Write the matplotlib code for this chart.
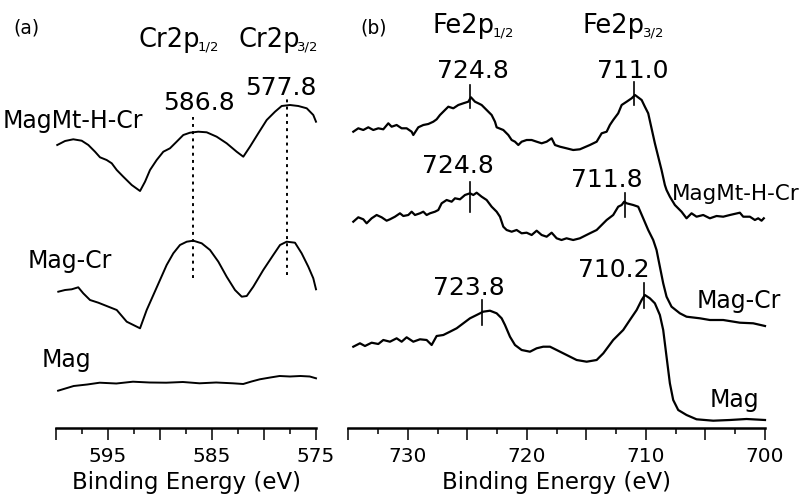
"""
XPS spectra: Cr2p (a) and Fe2p (b)
"""

import matplotlib
matplotlib.use("Agg")
import matplotlib.pyplot as plt
from matplotlib.ticker import MultipleLocator, FuncFormatter

# ---- panel (a): Cr2p, binding energy (eV) vs intensity (a.u., offset) ----
cr_top_x = [599.88, 599.13, 598.34, 597.53, 596.89, 596.25, 595.77, 595.13, 594.64,
            594.16, 593.53, 592.72, 591.92, 591.44, 590.96, 590.32, 589.68, 589.04,
            588.40, 587.76, 587.12, 586.32, 585.51, 584.55, 583.59, 582.63, 581.99,
            581.35, 580.55, 579.74, 578.94, 578.30, 577.50, 576.70, 575.89, 575.26, 575.0]
cr_top_y = [283, 287, 288.7, 287.3, 283, 276.3, 270.7, 268, 264.7,
            258, 251.3, 243, 237, 246.3, 258, 268, 276.3, 279.7,
            286.3, 293, 295.3, 296.3, 295.7, 291.3, 284.7, 276.3, 271.3,
            281.3, 294.7, 308, 316.3, 322, 323, 322, 319.7, 313, 306.3]

cr_mid_x = [599.78, 599.13, 598.49, 597.86, 597.38, 596.73, 595.93, 595.13, 594.16,
            593.20, 591.92, 591.28, 590.64, 590.00, 589.36, 588.72, 588.08, 587.43,
            586.80, 585.99, 585.19, 584.39, 583.59, 582.79, 582.14, 581.66, 581.03,
            580.07, 579.11, 578.46, 577.82, 577.02, 576.38, 575.74, 575.26, 575.0]
cr_mid_y = [136.3, 138, 138.7, 140.7, 134.7, 128, 125.3, 122, 118,
            106.3, 99.7, 118, 133, 148, 163, 174.7, 183, 186.3,
            187.3, 184.7, 178, 166.3, 151.3, 138, 131.3, 132, 141.3,
            158, 173, 183, 186.3, 185.3, 174.7, 161.3, 149.7, 138.7]

cr_bot_x = [599.8, 598.3, 597.0, 595.8, 594.2, 592.6, 591.0, 589.4, 587.8, 586.2,
            584.6, 583.0, 582.0, 581.2, 580.4, 579.4, 578.5, 577.5, 576.5, 575.6, 575.0]
cr_bot_y = [37.3, 42, 43.5, 45.3, 44.5, 46.3, 45.5, 45.3, 46, 44.7,
            45.5, 44.7, 44, 46.5, 48.7, 50.5, 52, 51.5, 52, 51.5, 49.7]

cr_peaks = [586.8, 577.8]
cr_peak_labels = ["586.8", "577.8"]
cr_names = ["MagMt-H-Cr", "Mag-Cr", "Mag"]

# ---- panel (b): Fe2p ----
fe_top_x = [734.58, 734.16, 733.74, 733.32, 732.90, 732.48, 732.06, 731.64, 731.36,
            730.94, 730.52, 730.10, 729.68, 729.54, 729.12, 728.70, 728.28, 727.86,
            727.58, 727.30, 726.88, 726.60, 726.18, 725.76, 725.34, 724.92, 724.70,
            724.36, 724.08, 723.80, 723.38, 722.96, 722.68, 722.54, 721.98, 721.56,
            721.28, 721.00, 720.72, 720.44, 720.02, 719.60, 719.18, 718.76, 718.34,
            717.92, 717.64, 717.22, 716.67, 716.11, 715.55, 714.71, 714.14, 713.72,
            713.30, 713.03, 712.75, 712.33, 712.04, 711.62, 711.20, 710.92, 710.36,
            710.09, 709.81, 709.53, 709.25, 708.97, 708.69, 708.41, 708.27, 707.99,
            707.57, 707.01, 706.59, 706.17, 705.75, 705.19, 704.63, 704.07, 703.51,
            702.95, 702.11, 701.83, 701.27, 700.85, 700.57, 700.29, 700.10]
fe_top_y = [296.3, 299.7, 298, 300.7, 298, 299.7, 298.7, 304.7, 301.3,
            303, 299.7, 299.7, 296.3, 293, 300.7, 303, 304, 306.3,
            308.7, 313, 318, 321.3, 319.7, 323, 324.7, 326.3, 330.7,
            326.3, 324.7, 323, 318, 313, 306.3, 300.7, 298, 293,
            288, 286.3, 283, 286.3, 288, 288, 286.3, 284.7, 286.3,
            289.7, 283, 281.3, 279.7, 278, 278.7, 283, 286.3, 294.7,
            296.3, 303, 308, 314.7, 323, 326.3, 329.7, 333, 328,
            321.3, 314.7, 299.7, 284.7, 271.3, 258, 243, 238, 231.3,
            223, 216.3, 209.7, 214.7, 211.3, 213, 209.7, 212, 211.3,
            213, 215.3, 211.3, 211.3, 208, 209.7, 207.3, 209.7]

fe_mid_x = [734.58, 734.16, 733.74, 733.46, 733.04, 732.62, 732.20, 731.78, 731.50,
            731.08, 730.66, 730.38, 729.96, 729.68, 729.40, 728.98, 728.70, 728.42,
            728.14, 727.72, 727.44, 727.16, 726.74, 726.32, 726.04, 725.62, 725.20,
            724.78, 724.50, 724.22, 723.80, 723.38, 722.96, 722.54, 722.26, 721.98,
            721.70, 721.28, 720.86, 720.44, 720.02, 719.60, 719.18, 718.76, 718.34,
            717.92, 717.50, 717.09, 716.67, 716.11, 715.55, 714.71, 714.14, 713.30,
            712.75, 712.33, 712.04, 711.83, 711.62, 711.07, 710.65, 710.23, 709.81,
            709.39, 709.11, 708.83, 708.55, 708.27, 707.85, 707.15, 706.59, 705.47,
            704.63, 703.51, 702.11, 700.99, 700.0]
fe_mid_y = [206.3, 210.7, 208.7, 204.7, 209.7, 213, 210.7, 207.3, 208.7,
            211.3, 214.7, 212, 213, 216.3, 213, 214.7, 216.3, 213,
            214.7, 216.3, 218, 224.7, 228, 226.3, 229.7, 228.7, 233,
            234.7, 233, 235.3, 231.3, 228, 221.3, 216.3, 211.3, 201.3,
            198, 196.3, 198, 194.7, 195.3, 193, 197.3, 193, 191.3,
            195.3, 189.7, 188, 189.7, 188, 189.7, 194.7, 198, 208,
            213, 221.3, 223, 226.3, 224.7, 223, 221.3, 209.7, 198,
            188, 178, 161.3, 144.7, 131.3, 121.3, 114.7, 111.3, 109.7,
            108, 108, 105.3, 104.7, 102]

fe_bot_x = [734.58, 734.02, 733.60, 733.04, 732.48, 732.06, 731.50, 730.94, 730.52,
            730.10, 729.54, 728.98, 728.42, 728.00, 727.58, 727.02, 726.46, 725.90,
            725.34, 724.78, 724.22, 723.67, 723.10, 722.54, 722.12, 721.84, 721.42,
            721.00, 720.44, 719.74, 719.18, 718.63, 718.06, 717.50, 716.66, 715.82,
            714.98, 714.14, 713.58, 712.75, 711.91, 711.35, 710.78, 710.36, 710.09,
            709.67, 709.25, 708.83, 708.55, 708.27, 707.99, 707.71, 707.29, 706.59,
            705.75, 704.35, 702.95, 701.55, 700.0]
fe_bot_y = [81.3, 84.7, 82, 85.3, 84, 88, 86.3, 89.7, 86.3,
            90.7, 86.3, 88.7, 88, 83, 92, 93, 96.3, 99.7,
            104.7, 109.7, 113, 116.3, 117.3, 114.7, 109.7, 103, 91.3,
            83, 78, 76.3, 79.7, 81.3, 81.3, 78, 73, 68,
            66.3, 68, 74.7, 88, 98, 108, 118, 128, 133,
            129.7, 124.7, 113, 98, 71.3, 44.7, 28, 18, 13,
            8.7, 7.3, 8, 9, 8]

fe_peaks = [724.8, 711.0, 724.8, 711.8, 723.8, 710.2]
fe_peak_labels = ["724.8", "711.0", "724.8", "711.8", "723.8", "710.2"]
fe_names = ["MagMt-H-Cr", "Mag-Cr", "Mag"]


def style_axis(ax, xmin, xmax, label_base):
    ax.set_xlim(xmin, xmax)
    ax.set_ylim(0, 428)
    for side in ("left", "right", "top"):
        ax.spines[side].set_visible(False)
    ax.spines["bottom"].set_linewidth(1.8)
    ax.set_yticks([])
    ax.xaxis.set_major_locator(MultipleLocator(5))
    ax.xaxis.set_minor_locator(MultipleLocator(2.5))
    ax.xaxis.set_major_formatter(FuncFormatter(
        lambda v, p: f"{v:.0f}" if abs((v - label_base) % 10) < 1e-6 else ""))
    ax.tick_params(axis="x", which="major", direction="out", length=8.5, width=1.1,
                   labelsize=14.5, pad=5)
    ax.tick_params(axis="x", which="minor", direction="out", length=4.2, width=1.1)
    ax.set_xlabel("Binding Energy (eV)", fontsize=16.5, labelpad=4)
    ax.patch.set_alpha(0)


def orbital_label(ax, x, y, main, sub):
    # big orbital name followed by a small subscript fraction
    t = ax.text(x, y, main, fontsize=18.5, ha="left", va="baseline")
    ax.annotate(sub, xy=(1.0, 0.0), xycoords=t, xytext=(-1.5, -0.5),
                textcoords="offset points", fontsize=9.5, ha="left", va="bottom")


fig = plt.figure(figsize=(8.07, 4.94), dpi=100)
ax1 = fig.add_axes([56 / 807, 66 / 494, 260 / 807, 428 / 494])
ax2 = fig.add_axes([348.3 / 807, 66 / 494, 416.7 / 807, 428 / 494])

# panel (a)
style_axis(ax1, 600, 575, 575)
for xs, ys in [(cr_top_x, cr_top_y), (cr_mid_x, cr_mid_y), (cr_bot_x, cr_bot_y)]:
    ax1.plot(xs, ys, color="black", lw=1.4, clip_on=False)
ax1.plot([cr_peaks[0]] * 2, [150, 311], color="black", lw=1.4, ls=(0, (1.5, 2.2)))
ax1.plot([cr_peaks[1]] * 2, [153, 330], color="black", lw=1.4, ls=(0, (1.5, 2.2)))
ax1.text(586.25, 318, cr_peak_labels[0], fontsize=18, ha="center", va="baseline")
ax1.text(578.37, 333, cr_peak_labels[1], fontsize=18, ha="center", va="baseline")
orbital_label(ax1, 592.1, 381, "Cr2p", "1/2")
orbital_label(ax1, 582.5, 381, "Cr2p", "3/2")
ax1.text(604.1, 395, "(a)", fontsize=13.5, ha="left", va="baseline")
ax1.text(605.1, 300, cr_names[0], fontsize=17, ha="left", va="baseline")
ax1.text(602.7, 160, cr_names[1], fontsize=17, ha="left", va="baseline")
ax1.text(601.35, 61, cr_names[2], fontsize=17, ha="left", va="baseline")

# panel (b)
style_axis(ax2, 735, 700, 700)
for xs, ys in [(fe_top_x, fe_top_y), (fe_mid_x, fe_mid_y), (fe_bot_x, fe_bot_y)]:
    ax2.plot(xs, ys, color="black", lw=1.6, clip_on=False)

tick_spans = [(320, 343), (323, 346), (216, 246), (211, 235), (103, 128), (120, 145)]
label_pos = [(724.53, 350), (711.10, 350), (725.79, 255), (713.28, 241),
             (724.87, 133), (712.70, 151)]
for pk, (y0, y1), (lx, ly), txt in zip(fe_peaks, tick_spans, label_pos, fe_peak_labels):
    ax2.plot([pk, pk], [y0, y1], color="black", lw=1.2)
    ax2.text(lx, ly, txt, fontsize=18, ha="center", va="baseline")

orbital_label(ax2, 727.89, 395, "Fe2p", "1/2")
orbital_label(ax2, 715.3, 395, "Fe2p", "3/2")
ax2.text(734.0, 395, "(b)", fontsize=13.5, ha="left", va="baseline")
ax2.text(707.8, 228, fe_names[0], fontsize=15.5, ha="left", va="baseline")
ax2.text(705.73, 120, fe_names[1], fontsize=17, ha="left", va="baseline")
ax2.text(704.64, 21, fe_names[2], fontsize=17, ha="left", va="baseline")

fig.savefig("out.png", dpi=100)
